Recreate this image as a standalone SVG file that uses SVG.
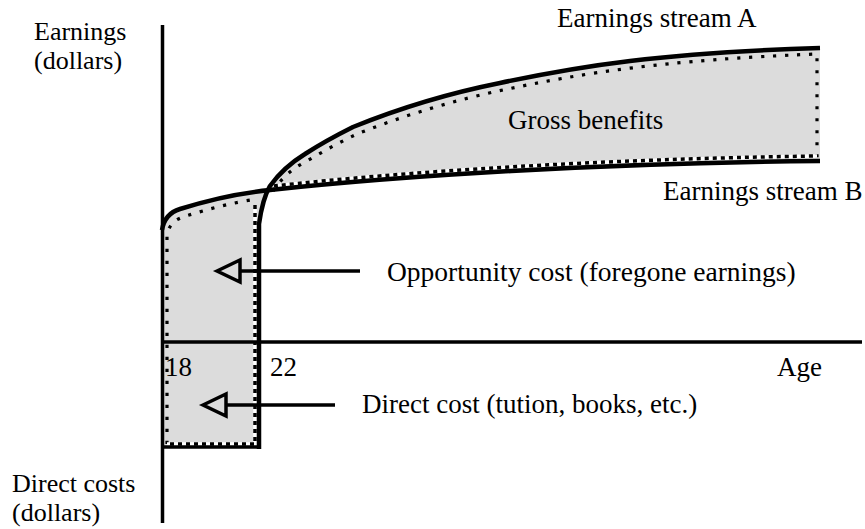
<svg xmlns="http://www.w3.org/2000/svg" width="865" height="529" viewBox="0 0 865 529">
  <style>
    text { font-family: "Liberation Serif", "Times New Roman", serif; font-size: 27px; fill: #000; }
    .axis-label { font-size: 26px; }
    .axis { stroke: #000; stroke-width: 3.5; fill: none; }
    .curve { stroke: #000; stroke-width: 4.5; fill: none; stroke-linejoin: round; }
    .area { fill: #dcdcdc; stroke: none; }
    .dots { stroke: #000; stroke-width: 3.2; fill: none; stroke-dasharray: 3.2 8.8; }
    .edge-bg { stroke: #fff; stroke-width: 3.5; fill: none; }
    .edge-dots { stroke: #000; stroke-width: 3.5; fill: none; stroke-dasharray: 4 4; }
    .pointer { stroke: #000; stroke-width: 3.5; fill: none; }
    .head { stroke: #000; stroke-width: 3.5; fill: none; stroke-linejoin: miter; }
  </style>

  <!-- shaded areas -->
  <g id="areas">
    <path class="area" d="M162,447 L162,230 C164,218 170,212 180,209 C205,201 240,193 266,191 L262,205 L259,224 L259,447 Z"/>
    <path class="area" d="M266,191 L270,186 C280,172 292,162 305,154 C322,143 337,135 353,127 C400,108 450,93 500,83 C580,66 660,53 820,48 L820,161 C600,163 400,176 270,190 Z"/>
  </g>

  <!-- dotted outlines of the shaded areas -->
  <g id="outlines">
    <path class="dots" d="M167,444 L167,234 C170,223 176,219 186,216 C208,209 235,202 257,199"/>
    <path class="edge-bg" d="M255,205 L255,444 L167,444"/>
    <path class="edge-dots" d="M255,205 L255,444 L167,444"/>
    <path class="dots" d="M273,191 C281,179 291,169 307,161 C322,152 340,142 357,134 C405,115 455,100 503,90 C583,73 663,60 817,54 L817,158"/>
    <path class="edge-bg" d="M274,186 C400,172 600,159 817,156"/>
    <path class="edge-dots" d="M274,186 C400,172 600,159 817,156"/>
  </g>

  <!-- axes -->
  <g id="axes">
    <path class="axis" d="M162.5,25 L162.5,523"/>
    <path class="axis" d="M161,342 L862,342"/>
    <path class="axis" d="M161,447 L260,447"/>
  </g>

  <!-- earnings streams and pointers -->
  <g id="connectors">
    <path id="stream-b" class="curve" d="M162,230 C164,218 170,212 180,209 C205,201 240,193 270,190 C400,176 600,163 820,161"/>
    <path id="stream-a" class="curve" d="M259,449 L259,224 C261,210 264,196 270,186 C280,172 292,162 305,154 C322,143 337,135 353,127 C400,108 450,93 500,83 C580,66 660,53 820,48"/>
    <g id="pointer-opportunity">
      <path class="pointer" d="M240,271 L360,271"/>
      <path class="head" d="M217,271 L240,260 L240,282 Z"/>
    </g>
    <g id="pointer-direct">
      <path class="pointer" d="M226,405 L335,405"/>
      <path class="head" d="M203,405 L226,394 L226,416 Z"/>
    </g>
  </g>

  <!-- labels -->
  <g id="label-earnings-axis">
    <text class="axis-label" x="34" y="40">Earnings</text>
    <text class="axis-label" x="34" y="69">(dollars)</text>
  </g>
  <g id="label-cost-axis">
    <text class="axis-label" x="12" y="492">Direct costs</text>
    <text class="axis-label" x="12" y="521">(dollars)</text>
  </g>
  <g id="label-stream-a"><text x="557" y="27">Earnings stream A</text></g>
  <g id="label-stream-b"><text x="663" y="200">Earnings stream B</text></g>
  <g id="label-gross"><text x="508" y="129">Gross benefits</text></g>
  <g id="label-opportunity"><text x="387" y="281" style="font-size:27.5px">Opportunity cost (foregone earnings)</text></g>
  <g id="label-direct"><text x="362" y="413">Direct cost (tution, books, etc.)</text></g>
  <g id="label-18"><text x="165" y="376">18</text></g>
  <g id="label-22"><text x="270" y="376">22</text></g>
  <g id="label-age"><text x="777" y="376">Age</text></g>
</svg>
